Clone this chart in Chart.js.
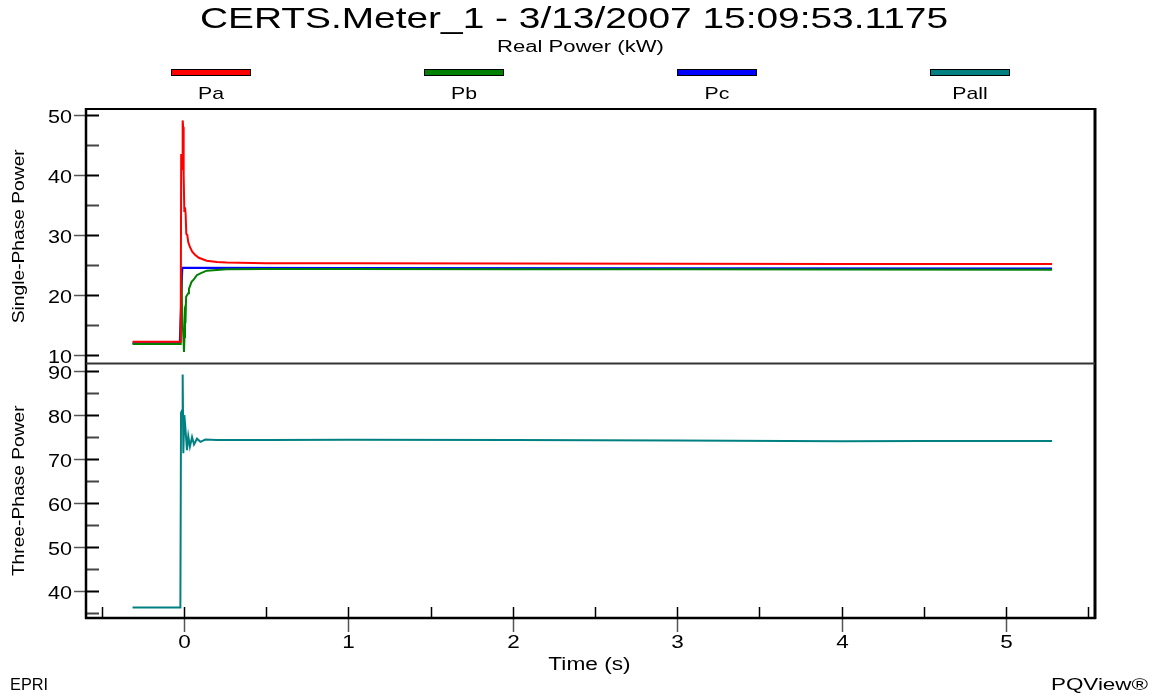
<!DOCTYPE html>
<html>
<head>
<meta charset="utf-8">
<title>CERTS.Meter_1 Real Power</title>
<script src="https://cdn.jsdelivr.net/npm/chart.js@4.4.1/dist/chart.umd.min.js"></script>
<style>
  html, body { margin: 0; padding: 0; background: #fff; }
  #wrap { position: relative; width: 1156px; height: 698px; }
</style>
</head>
<body>
<div id="wrap"><canvas id="pqChart"></canvas></div>
<script>
const chartTitle = 'CERTS.Meter_1 - 3/13/2007 15:09:53.1175';
const chartSubtitle = 'Real Power (kW)';
const topAxisTitle = 'Single-Phase Power';
const bottomAxisTitle = 'Three-Phase Power';
const xAxisTitle = 'Time (s)';

const seriesNames = ['Pa', 'Pb', 'Pc', 'Pall'];
const seriesColors = ['#ff0000', '#008000', '#0000ff', '#008080'];

// [time (s), kW]
const pa = [
    [-0.313, 12.2], [-0.02, 12.2], [-0.017, 43.5], [-0.012, 41], [-0.008, 49.1], [-0.005, 48],
    [-0.002, 40], [0.002, 34], [0.006, 34.6], [0.01, 33.5], [0.014, 30.2], [0.02, 30],
    [0.026, 28.8], [0.036, 28], [0.05, 27.2], [0.067, 26.7], [0.09, 26.2], [0.11, 26],
    [0.138, 25.7], [0.2, 25.5], [0.26, 25.4], [0.5, 25.3], [1, 25.3], [2, 25.25],
    [3, 25.2], [4, 25.15], [5.28, 25.15]
];
const pb = [
    [-0.313, 11.85], [-0.02, 11.85], [-0.016, 24], [-0.012, 18], [0.0, 10.5], [0.003, 13],
    [0.006, 17], [0.01, 16.5], [0.013, 19.7], [0.026, 20.3], [0.03, 21], [0.046, 22.2],
    [0.06, 22.6], [0.078, 23.3], [0.1, 23.6], [0.138, 24.05], [0.26, 24.3], [0.5, 24.35],
    [1, 24.35], [2, 24.3], [3, 24.3], [4, 24.25], [5.28, 24.2]
];
const pc = [
    [-0.313, 11.95], [-0.026, 11.95], [-0.01, 24.55], [1, 24.5], [3, 24.45], [5.28, 24.4]
];
const pall = [
    [-0.313, 36.2], [-0.022, 36.2], [-0.018, 80.5], [-0.012, 81], [-0.008, 89.2], [-0.004, 71.3],
    [0.002, 80], [0.008, 77.3], [0.018, 72], [0.026, 75.2], [0.036, 72.8], [0.049, 75],
    [0.061, 73.3], [0.079, 74.6], [0.1, 73.9], [0.13, 74.4], [0.2, 74.3], [0.5, 74.3],
    [1, 74.35], [2, 74.3], [3, 74.2], [4, 74.0], [4.5, 74.1], [5.28, 74.1]
];

const xTicks = [0, 1, 2, 3, 4, 5];
const xMinorTicks = [-0.5, 0.5, 1.5, 2.5, 3.5, 4.5, 5.5];
const yTopTicks = [10, 20, 30, 40, 50];
const yTopMinorTicks = [15, 25, 35, 45];
const yBotTicks = [40, 50, 60, 70, 80, 90];
const yBotMinorTicks = [35, 45, 55, 65, 75, 85];

const FONT = '"Liberation Sans", Arial, sans-serif';

function stretchedText(ctx, text, x, y, size, align, sx, rot) {
    ctx.save();
    ctx.translate(x, y);
    if (rot) ctx.rotate(rot);
    ctx.scale(sx, 1);
    ctx.font = size + 'px ' + FONT;
    ctx.fillStyle = '#000';
    ctx.textAlign = align;
    ctx.textBaseline = 'alphabetic';
    ctx.fillText(text, 0, 0);
    ctx.restore();
}

function line(ctx, x1, y1, x2, y2, color, w) {
    ctx.beginPath();
    ctx.strokeStyle = color;
    ctx.lineWidth = w;
    ctx.moveTo(x1, y1);
    ctx.lineTo(x2, y2);
    ctx.stroke();
}

const pqDecor = {
    id: 'pqDecor',
    afterDraw(chart) {
        const ctx = chart.ctx;
        const a = chart.chartArea;
        const x = chart.scales.x;
        const yTop = chart.scales.yTop;
        const yBot = chart.scales.yBot;
        const cx = chart.width / 2;

        // header
        stretchedText(ctx, chartTitle, cx - 4, 28, 29, 'center', 1.34);
        stretchedText(ctx, chartSubtitle, (a.left + a.right) / 2 - 10, 52, 16, 'center', 1.38);

        // legend: bar above, name below
        const step = (a.right - a.left - 250) / (seriesNames.length - 1);
        seriesNames.forEach((name, i) => {
            const c = a.left + 125 + i * step;
            ctx.fillStyle = seriesColors[i];
            ctx.fillRect(c - 40, 69, 80, 7);
            ctx.strokeStyle = '#000';
            ctx.lineWidth = 1;
            ctx.strokeRect(c - 39.5, 69.5, 79, 6);
            stretchedText(ctx, name, c, 99, 17, 'center', 1.25);
        });

        // y ticks for both panels
        [[yTop, yTopTicks, yTopMinorTicks], [yBot, yBotTicks, yBotMinorTicks]].forEach(([s, major, minor]) => {
            major.forEach(v => {
                const py = Math.round(s.getPixelForValue(v)) + 0.5;
                line(ctx, a.left - 12, py, a.left, py, '#555', 1.5);
                line(ctx, a.left, py, a.left + 13, py, '#000', 2);
                stretchedText(ctx, String(v), a.left - 14, py + 7, 18, 'right', 1.2);
            });
            minor.forEach(v => {
                const py = Math.round(s.getPixelForValue(v)) + 0.5;
                line(ctx, a.left, py, a.left + 13, py, '#444', 2);
            });
        });

        // x ticks
        xTicks.forEach(v => {
            const px = Math.round(x.getPixelForValue(v)) + 0.5;
            line(ctx, px, a.bottom - 11, px, a.bottom, '#000', 1.5);
            line(ctx, px, a.bottom, px, a.bottom + 14, '#555', 1.5);
            stretchedText(ctx, String(v), px, a.bottom + 30, 18, 'center', 1.25);
        });
        xMinorTicks.forEach(v => {
            const px = Math.round(x.getPixelForValue(v)) + 0.5;
            line(ctx, px, a.bottom - 11, px, a.bottom, '#000', 1.5);
        });

        // frame and panel separator
        line(ctx, a.left - 1, a.top, a.right, a.top, '#000', 2);
        line(ctx, a.left, a.top - 1, a.left, a.bottom + 1, '#000', 2.5);
        line(ctx, a.left - 1, a.bottom, a.right + 1, a.bottom, '#000', 2.5);
        line(ctx, a.right, a.top - 1, a.right, a.bottom + 1, '#000', 3);
        line(ctx, a.left, yTop.bottom, a.right, yTop.bottom, '#333', 2);

        // axis titles
        stretchedText(ctx, topAxisTitle, 24, (yTop.top + yTop.bottom) / 2, 16, 'center', 1.2, -Math.PI / 2);
        stretchedText(ctx, bottomAxisTitle, 24, (yBot.top + yBot.bottom) / 2, 16, 'center', 1.2, -Math.PI / 2);
        stretchedText(ctx, xAxisTitle, (a.left + a.right) / 2 - 1, a.bottom + 52, 18, 'center', 1.26);

        // footer
        stretchedText(ctx, 'EPRI', 10, 690, 16, 'left', 1.02);
        stretchedText(ctx, 'PQView\u00AE', 1148, 690, 16, 'right', 1.4);
    }
};

const toXY = arr => arr.map(p => ({ x: p[0], y: p[1] }));

function makeSet(i, data, axis) {
    return {
        label: seriesNames[i],
        data: toXY(data),
        borderColor: seriesColors[i],
        backgroundColor: seriesColors[i],
        borderWidth: 2,
        pointRadius: 0,
        tension: 0,
        fill: false,
        yAxisID: axis
    };
}

const hiddenAxis = {
    ticks: { display: false },
    grid: { display: false, drawTicks: false },
    border: { display: false },
    title: { display: false }
};

new Chart(document.getElementById('pqChart'), {
    type: 'line',
    data: {
        datasets: [
            makeSet(0, pa, 'yTop'),
            makeSet(1, pb, 'yTop'),
            makeSet(2, pc, 'yTop'),
            makeSet(3, pall, 'yBot')
        ]
    },
    options: {
        responsive: true,
        maintainAspectRatio: false,
        animation: false,
        layout: {
            autoPadding: false,
            padding: { left: 86, right: 61, top: 109, bottom: 80 }
        },
        plugins: {
            legend: { display: false },
            title: { display: false },
            tooltip: { enabled: false }
        },
        scales: {
            x: Object.assign({ type: 'linear', min: -0.596, max: 5.541 }, hiddenAxis),
            // stacked left axes: the one listed last ends up on top
            yBot: Object.assign({ type: 'linear', position: 'left', min: 33.84, max: 91.7, stack: 'panels', stackWeight: 1 }, hiddenAxis),
            yTop: Object.assign({ type: 'linear', position: 'left', min: 8.58, max: 51.0, stack: 'panels', stackWeight: 1 }, hiddenAxis)
        }
    },
    plugins: [pqDecor]
});
</script>
</body>
</html>
